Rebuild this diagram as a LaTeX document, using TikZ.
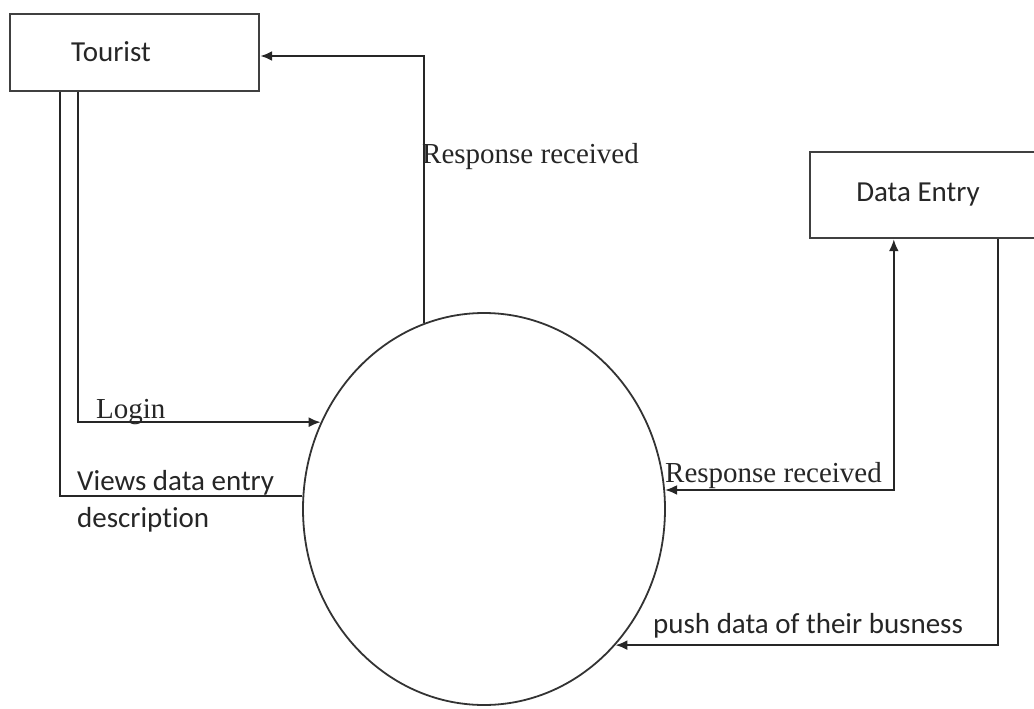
\documentclass[tikz,border=0pt]{standalone}
\usepackage{fontspec}
\setmainfont{Liberation Serif}
\newfontfamily\calfont[Ligatures={NoCommon,NoRare}]{Carlito}
\usetikzlibrary{shapes.geometric,arrows.meta}
\begin{document}
\begin{tikzpicture}[x=1pt,y=-1pt,
  box/.style={draw=black!75, line width=2.4pt, inner sep=0pt},
  proc/.style={ellipse, draw=black!80, line width=1.8pt, minimum width=362pt, minimum height=392pt, inner sep=0pt},
  flow/.style={draw=black!85, line width=2.2pt},
  arr/.style={flow, -{Latex[length=12pt,width=10pt]}},
  darr/.style={flow, {Latex[length=12pt,width=10pt]}-{Latex[length=12pt,width=10pt]}},
  sanslabel/.style={font=\calfont\fontsize{29}{37}\selectfont, text=black!85, inner sep=0pt},
  seriflabel/.style={font=\fontsize{29}{35}\selectfont, text=black!85, inner sep=0pt}]
\useasboundingbox (0,0) rectangle (1034,709);
\clip (0,0) rectangle (1034,709);

% entities
\node[box, minimum width=249pt, minimum height=77pt] (tourist) at (134.5,52.5) {};
\node[sanslabel] (touristtxt) at (111,52) {Tourist};
\node[box, minimum width=235pt, minimum height=86pt] (de) at (927.5,195) {};
\node[sanslabel] (detxt) at (918,195) {Data Entry};

% process
\node[proc] (ell) at (484,509) {};

% connectors
\draw[arr] (ell.108.3) |- ([yshift=-3.5pt]tourist.east);
\draw[arr] ([xshift=69pt]tourist.south west) |- (ell.152.2);
\draw[flow] ([xshift=51pt]tourist.south west) |- (ell.176.2);
\draw[darr] (ell.6.3) -| ([xshift=85pt]de.south west);
\draw[arr] ([xshift=189pt]de.south west) |- (ell.-46.9);

% labels
\node[seriflabel, anchor=base west] (lresp1) at (422,163) {Response received};
\node[seriflabel, anchor=base west] (llogin) at (96,418) {Login};
\node[sanslabel, anchor=base west, align=left] (lviews) at (77,527) {Views data entry\\description};
\node[seriflabel, anchor=base west] (lresp2) at (665,482) {Response received};
\node[sanslabel, anchor=base west] (lpush) at (653,633) {push data of their busness};
\end{tikzpicture}
\end{document}
